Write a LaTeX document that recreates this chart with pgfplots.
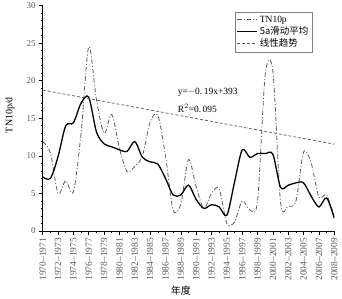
\documentclass[border=0pt]{standalone}
\usepackage{pgfplots}
\pgfplotsset{compat=1.18}
\usepackage{fontspec}
\setmainfont{Liberation Serif}
\newfontfamily\cjk{Noto Sans CJK SC}
\definecolor{dgray}{RGB}{90,90,90}
\begin{document}
\begin{tikzpicture}
\useasboundingbox (0,0) rectangle (342bp,299bp);
\begin{axis}[
  at={(42.7bp,68bp)}, anchor=south west,
  scale only axis, width=291.6bp, height=225.5bp,
  xmin=0, xmax=38, ymin=0, ymax=30,
  axis x line*=bottom, axis y line*=left,
  axis line style={line width=0.8bp},
  tick align=outside,
  major tick length=3.5bp, minor tick length=2bp,
  tick style={line width=0.6bp, black},
  xtick={0,2,...,38}, minor xtick={1,3,...,37},
  xticklabels={1970--1971,1972--1973,1974--1975,1976--1977,1978--1979,1980--1981,1982--1983,1984--1985,1986--1987,1988--1989,1990--1991,1992--1993,1994--1995,1996--1997,1998--1999,2000--2001,2002--2003,2004--2005,2006--2007,2008--2009},
  xticklabel style={rotate=90, anchor=east, font=\fontsize{9.5}{9.5}\selectfont, text=dgray},
  ytick={0,5,...,30}, minor ytick={1,2,3,4,6,7,8,9,11,12,13,14,16,17,18,19,21,22,23,24,26,27,28,29},
  yticklabel style={font=\fontsize{9}{10}\selectfont, text=dgray},
  /pgf/number format/assume math mode=true,
  xlabel={\cjk 年度},
  xlabel style={at={(axis description cs:0.474,-0.266)}, anchor=center, font=\fontsize{10}{11}\selectfont},
  ylabel={TN10p/d},
  ylabel style={at={(axis description cs:-0.112,0.514)}, anchor=center, font=\fontsize{10}{11}\selectfont},
  legend style={at={(0.659,0.971)}, anchor=north west, draw=gray, line width=0.5bp,
    font=\fontsize{9.5}{11}\selectfont, inner sep=1.5bp, row sep=-1bp, cells={anchor=west}},
  legend cell align=left,
  legend image code/.code={\draw[#1] (0bp,0bp) -- (20bp,0bp);},
]
\addplot[dgray, line width=0.8bp, smooth, dash pattern=on 4.5bp off 2bp on 1bp off 2bp] coordinates {
(0,11.9)(1,10.4)(2,5.0)(3,6.7)(4,5.2)(5,13.0)(6,24.5)(7,17.5)(8,13.0)(9,15.5)
(10,11.0)(11,7.9)(12,8.6)(13,10.0)(14,14.5)(15,15.4)(16,10.0)(17,2.8)(18,3.6)(19,9.5)
(20,5.9)(21,3.0)(22,5.0)(23,5.6)(24,1.0)(25,1.2)(26,4.0)(27,2.8)(28,4.0)(29,20.8)
(30,21.2)(31,3.8)(32,3.3)(33,4.0)(34,10.5)(35,9.0)(36,4.5)(37,4.8)(38,1.9)};
\addlegendentry{TN10p}
\addplot[black, line width=1.3bp, smooth] coordinates {
(0,7.2)(1,7.0)(2,9.9)(3,14.0)(4,14.4)(5,17.0)(6,17.8)(7,13.2)(8,11.6)(9,11.2)
(10,10.8)(11,10.6)(12,11.9)(13,9.8)(14,9.2)(15,8.9)(16,7.0)(17,4.8)(18,4.8)(19,6.1)
(20,4.2)(21,3.0)(22,3.5)(23,3.2)(24,2.1)(25,6.5)(26,10.8)(27,9.8)(28,10.3)(29,10.3)
(30,10.2)(31,5.8)(32,6.1)(33,6.4)(34,6.4)(35,4.6)(36,3.2)(37,4.4)(38,1.7)};
\addlegendentry{\cjk 5a滑动平均}
\addplot[dgray, line width=0.7bp, dash pattern=on 3bp off 2bp] coordinates {(0,18.75)(38,11.55)};
\addlegendentry{\cjk 线性趋势}
\node[anchor=west, font=\fontsize{9.5}{10}\selectfont, inner sep=0pt] at (axis cs:17.6,18.4) {y=$-$0.\,19x+393};
\node[anchor=west, font=\fontsize{9.5}{10}\selectfont, inner sep=0pt] at (axis cs:17.6,16.3) {R$^2$=0.\,095};
\end{axis}
\end{tikzpicture}
\end{document}
